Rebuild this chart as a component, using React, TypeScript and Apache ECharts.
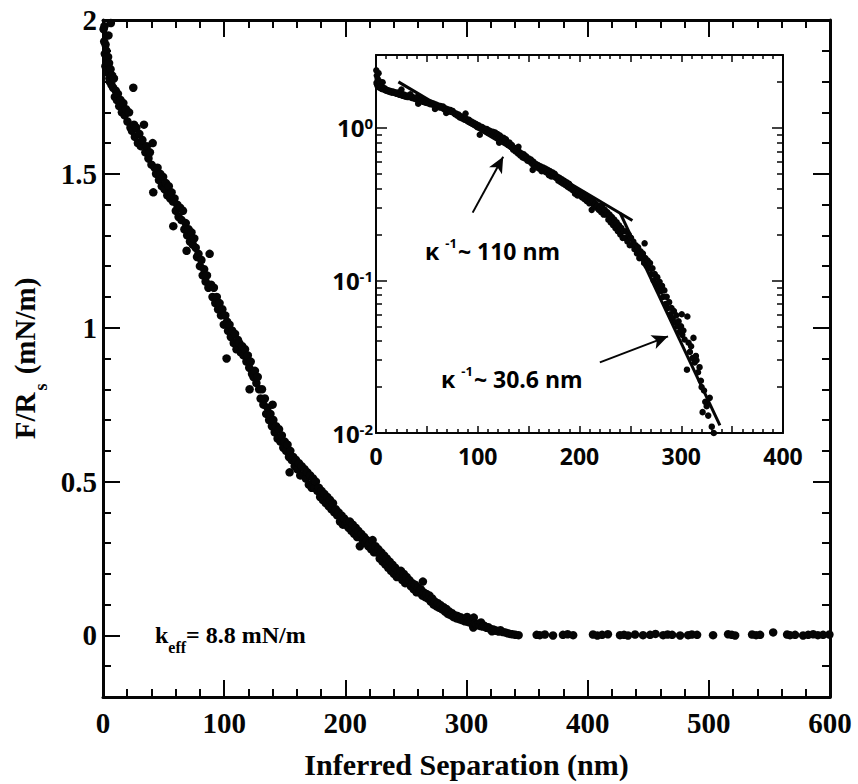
import React, { useEffect, useRef } from "react";
import * as echarts from "echarts";

// Surface force normalised by radius, F/R (mN/m), versus inferred separation (nm)
const separationNm = [
  0.3, 0.5, 0.8, 1.0, 1.2, 1.5, 1.6, 2.0, 2.1, 2.5,
  2.8, 3.0, 3.4, 3.6, 3.9, 4.2, 4.5, 5.3, 6.5, 5.0,
  5.6, 6.2, 6.9, 7.5, 8.3, 9.0, 9.8, 10.6, 11.5, 12.3,
  13.4, 14.5, 15.6, 16.8, 17.9, 19.0, 20.2, 21.5, 22.7, 23.9,
  25.0, 25.6, 26.3, 27.5, 28.8, 30.0, 31.2, 32.5, 33.8, 35.0,
  36.2, 37.5, 38.7, 40.0, 41.0, 41.5, 42.6, 43.8, 45.0, 46.2,
  47.3, 48.5, 49.6, 50.8, 52.0, 53.1, 54.3, 55.5, 56.6, 57.8,
  58.0, 59.0, 60.1, 61.3, 62.4, 63.6, 64.8, 66.0, 67.2, 68.3,
  69.0, 69.5, 70.6, 71.8, 73.0, 74.1, 75.3, 76.5, 77.6, 78.8,
  80.0, 81.2, 82.3, 83.5, 84.7, 85.8, 87.0, 88.0, 89.2, 90.4,
  91.5, 92.7, 93.9, 95.0, 96.2, 97.4, 98.5, 99.7, 100.9, 102.0,
  102.4, 103.2, 104.4, 105.5, 106.7, 107.9, 109.0, 110.2, 111.4, 112.5,
  113.7, 114.9, 116.0, 117.2, 118.4, 119.5, 120.7, 121.0, 121.9, 123.0,
  124.2, 125.4, 126.6, 127.7, 128.9, 130.1, 131.2, 132.4, 133.6, 134.7,
  135.9, 137.1, 138.2, 139.4, 140.0, 140.6, 141.7, 142.9, 144.1, 145.3,
  146.4, 147.6, 148.8, 150.0, 151.1, 152.3, 153.5, 154.0, 154.6, 155.8,
  157.0, 158.2, 159.3, 160.5, 161.7, 162.8, 164.0, 165.2, 166.4, 167.5,
  168.7, 169.9, 171.0, 172.2, 173.4, 174.6, 175.7, 176.9, 178.1, 179.2,
  180.4, 181.6, 182.7, 183.9, 185.1, 186.3, 187.4, 188.6, 189.8, 190.9,
  192.1, 193.3, 194.4, 195.6, 196.8, 198.0, 199.1, 200.3, 201.5, 202.6,
  203.8, 205.0, 206.1, 207.3, 208.5, 209.7, 210.8, 212.0, 213.2, 214.3,
  215.5, 216.7, 217.9, 219.0, 220.2, 221.4, 222.5, 223.7, 224.9, 226.0,
  227.2, 228.4, 229.6, 230.7, 231.9, 233.1, 234.2, 235.4, 236.6, 237.7,
  238.9, 240.1, 241.2, 242.4, 243.6, 244.8, 245.9, 247.1, 248.3, 249.4,
  250.6, 251.8, 252.9, 254.1, 255.3, 256.5, 257.6, 258.8, 260.0, 261.1,
  262.3, 263.5, 264.0, 264.7, 265.8, 267.0, 268.2, 269.3, 270.5, 271.7,
  272.9, 274.0, 275.2, 276.4, 277.5, 278.7, 279.9, 281.1, 282.2, 283.4,
  284.6, 285.7, 286.9, 288.1, 289.3, 290.4, 291.6, 292.8, 293.9, 295.1,
  296.3, 297.4, 298.6, 299.8, 300.5, 301.0, 302.1, 303.3, 305.6, 306.0,
  307.2, 308.5, 309.7, 311.0, 312.0, 313.2, 314.4, 315.0, 316.5, 318.0,
  319.3, 320.0, 321.0, 322.4, 323.6, 325.0, 326.5, 328.0, 330.0, 332.0,
  334.0, 336.0, 338.0, 340.5, 343.0,
  357.9, 360.5, 364.7, 371.4, 379.6, 383.5, 388.0, 404.4, 408.0, 411.9,
  416.7, 426.7, 430.0, 433.3, 439.1, 445.7, 451.5, 456.0, 462.3, 466.0,
  469.7, 476.3, 482.9, 486.0, 490.3, 503.5, 515.9, 519.0, 521.7, 535.7,
  539.0, 542.3, 553.1, 564.6, 567.0, 571.2, 577.8, 582.0, 586.1, 590.0,
  594.3, 599.5,
];

const forceMNm = [
  2.38, 1.97, 2.20, 1.93, 1.98, 1.89, 2.10, 1.85, 1.92, 2.28,
  1.90, 1.88, 2.02, 1.83, 1.86, 1.88, 1.95, 1.81, 1.99, 1.86,
  1.80, 1.84, 1.79, 1.82, 1.78, 1.81, 1.75, 1.77, 1.74, 1.76,
  1.72, 1.74, 1.70, 1.73, 1.69, 1.71, 1.67, 1.70, 1.65, 1.64,
  1.78, 1.66, 1.62, 1.65, 1.60, 1.63, 1.59, 1.61, 1.66, 1.57,
  1.59, 1.55, 1.57, 1.53, 1.60, 1.44, 1.52, 1.50, 1.52, 1.48,
  1.50, 1.46, 1.49, 1.45, 1.47, 1.43, 1.46, 1.42, 1.44, 1.41,
  1.33, 1.42, 1.38, 1.40, 1.36, 1.39, 1.35, 1.38, 1.32, 1.34,
  1.25, 1.30, 1.32, 1.28, 1.31, 1.27, 1.29, 1.26, 1.23, 1.24,
  1.20, 1.22, 1.17, 1.19, 1.15, 1.17, 1.13, 1.24, 1.14, 1.10,
  1.13, 1.08, 1.10, 1.06, 1.08, 1.04, 1.06, 1.01, 1.04, 0.90,
  1.02, 0.99, 1.01, 0.97, 0.99, 0.95, 0.98, 0.93, 0.96, 0.95,
  0.92, 0.94, 0.91, 0.93, 0.89, 0.91, 0.87, 0.80, 0.89, 0.85,
  0.84, 0.86, 0.82, 0.84, 0.80, 0.77, 0.80, 0.75, 0.77, 0.72,
  0.74, 0.70, 0.72, 0.68, 0.75, 0.70, 0.66, 0.68, 0.64, 0.67,
  0.63, 0.65, 0.61, 0.63, 0.60, 0.62, 0.58, 0.53, 0.60, 0.57,
  0.58, 0.55, 0.57, 0.54, 0.56, 0.52, 0.55, 0.52, 0.54, 0.51,
  0.53, 0.49, 0.52, 0.48, 0.51, 0.48, 0.50, 0.47, 0.48, 0.45,
  0.47, 0.44, 0.46, 0.43, 0.45, 0.42, 0.44, 0.41, 0.43, 0.40,
  0.41, 0.39, 0.40, 0.37, 0.39, 0.36, 0.38, 0.36, 0.37, 0.35,
  0.37, 0.34, 0.36, 0.33, 0.35, 0.32, 0.34, 0.29, 0.33, 0.31,
  0.32, 0.30, 0.31, 0.29, 0.30, 0.28, 0.31, 0.27, 0.29, 0.27,
  0.28, 0.25, 0.27, 0.24, 0.26, 0.23, 0.25, 0.22, 0.24, 0.21,
  0.23, 0.20, 0.22, 0.19, 0.21, 0.19, 0.21, 0.18, 0.20, 0.17,
  0.19, 0.17, 0.18, 0.16, 0.17, 0.15, 0.165, 0.14, 0.155, 0.14,
  0.15, 0.13, 0.175, 0.14, 0.125, 0.135, 0.12, 0.13, 0.11, 0.12,
  0.10, 0.11, 0.095, 0.105, 0.09, 0.098, 0.085, 0.092, 0.078, 0.086,
  0.07, 0.078, 0.066, 0.072, 0.06, 0.066, 0.056, 0.063, 0.053, 0.059,
  0.05, 0.054, 0.046, 0.05, 0.06, 0.044, 0.047, 0.041, 0.026, 0.058,
  0.039, 0.034, 0.037, 0.031, 0.042, 0.029, 0.032, 0.03, 0.025, 0.027,
  0.022, 0.02, 0.0137, 0.019, 0.016, 0.015, 0.013, 0.017, 0.011, 0.01,
  0.007, 0.005, 0.004, 0.002, 0.001,
  0.002, 0.001, 0.003, 0.0, 0.002, 0.004, 0.001, 0.003, 0.0, 0.002,
  0.004, 0.001, 0.002, 0.0, 0.003, 0.001, 0.002, 0.005, 0.001, 0.003,
  0.002, 0.0, 0.001, 0.003, 0.002, 0.001, 0.004, 0.002, 0.0, 0.003,
  0.001, 0.002, 0.01, 0.003, 0.001, 0.002, 0.0, 0.002, 0.004, 0.001,
  0.002, 0.003,
];

// Tick positions
const mainYLabels = [0, 0.5, 1, 1.5, 2];
const insetYMinorTicks = [
  0.02, 0.03, 0.04, 0.05, 0.06, 0.07, 0.08, 0.09,
  0.2, 0.3, 0.4, 0.5, 0.6, 0.7, 0.8, 0.9, 2, 3,
];

// Exponential fits on the log plot: decay lengths (nm) and fitted ranges
const decayLengthsNm = [110, 30.6];
const fitRangesNm = [
  [22, 252],
  [240, 338],
];
const fitStartForce = 2.0;

// Arrows from the labels to the fitted regions (separation nm, F/R mN/m)
const arrowTails = [
  [95, 0.278],
  [220, 0.029],
];
const arrowHeads = [
  [125, 0.646],
  [287, 0.043],
];

const INK = "#050505";
const SERIF = "'Liberation Serif', 'Times New Roman', serif";
const SANS = "'Open Sans', 'DejaVu Sans', sans-serif";

function buildFits() {
  const [r1, r2] = fitRangesNm;
  const [k1, k2] = decayLengthsNm;
  const longFit = [
    [r1[0], fitStartForce],
    [r1[1], fitStartForce * Math.exp(-(r1[1] - r1[0]) / k1)],
  ];
  const joinForce = fitStartForce * Math.exp(-(r2[0] - r1[0]) / k1);
  const shortFit = [
    [r2[0], joinForce],
    [r2[1], joinForce * Math.exp(-(r2[1] - r2[0]) / k2)],
  ];
  return [longFit, shortFit];
}

function buildOption() {
  const points = separationNm.map((d, i) => [d, forceMNm[i]]);
  const logPoints = points.filter((p) => p[1] >= 0.01);
  const [longFit, shortFit] = buildFits();

  const mainLine = { show: true, onZero: false, lineStyle: { color: INK, width: 3 } };
  const insetLine = { show: true, onZero: false, lineStyle: { color: INK, width: 2 } };
  const noSplit = { show: false };

  const mainX = (position: string, labels: boolean) => ({
    gridIndex: 0,
    type: "value",
    min: 0,
    max: 600,
    interval: 100,
    position,
    axisLine: mainLine,
    axisTick: { inside: true, length: 17, lineStyle: { color: INK, width: 2 } },
    minorTick: { show: true, splitNumber: 5, length: 8, lineStyle: { color: INK, width: 2 } },
    splitLine: noSplit,
    minorSplitLine: noSplit,
    axisLabel: labels
      ? { color: INK, fontFamily: SERIF, fontWeight: "bold", fontSize: 29, margin: 11 }
      : { show: false },
    ...(labels
      ? {
          name: "Inferred Separation (nm)",
          nameLocation: "middle",
          nameGap: 52,
          nameTextStyle: { color: INK, fontFamily: SERIF, fontWeight: "bold", fontSize: 30 },
        }
      : {}),
  });

  const insetX = (position: string, labels: boolean) => ({
    gridIndex: 1,
    type: "value",
    min: 0,
    max: 400,
    interval: 50,
    position,
    axisLine: insetLine,
    axisTick: { inside: true, length: 7, lineStyle: { color: INK, width: 1.5 } },
    minorTick: { show: true, splitNumber: 5, length: 4, lineStyle: { color: INK, width: 1.5 } },
    splitLine: noSplit,
    minorSplitLine: noSplit,
    axisLabel: labels
      ? {
          color: INK,
          fontFamily: SANS,
          fontWeight: "bold",
          fontSize: 23,
          margin: 11,
          formatter: (v: number) => (v % 100 === 0 ? String(v) : ""),
        }
      : { show: false },
  });

  const mainYMinor = (position: string, labels: boolean) => ({
    gridIndex: 0,
    type: "value",
    min: -0.2,
    max: 2,
    interval: 0.1,
    position,
    axisLine: mainLine,
    axisTick: { inside: true, length: 8, lineStyle: { color: INK, width: 2 } },
    splitLine: noSplit,
    axisLabel: labels
      ? {
          color: INK,
          fontFamily: SERIF,
          fontWeight: "bold",
          fontSize: 29,
          margin: 6,
          formatter: (v: number) =>
            mainYLabels.some((l) => Math.abs(l - v) < 1e-9) ? String(v) : "",
        }
      : { show: false },
    ...(labels
      ? {
          name: "{a|F/R}{s|s}{a| (mN/m)}",
          nameLocation: "middle",
          nameRotate: 90,
          nameGap: 56,
          nameTextStyle: {
            rich: {
              a: {
                color: INK,
                fontFamily: SERIF,
                fontWeight: "bold",
                fontSize: 29,
                lineHeight: 31,
                verticalAlign: "top",
              },
              s: {
                color: INK,
                fontFamily: SERIF,
                fontWeight: "bold",
                fontSize: 18,
                lineHeight: 18,
                padding: [21, 2, 0, 2],
                verticalAlign: "top",
              },
            },
          },
        }
      : {}),
  });

  const mainYMajor = (position: string) => ({
    gridIndex: 0,
    type: "value",
    min: -0.2,
    max: 2,
    interval: 0.1,
    position,
    axisLine: { show: false, onZero: false },
    axisTick: { inside: true, length: 17, customValues: mainYLabels, lineStyle: { color: INK, width: 2 } },
    splitLine: noSplit,
    axisLabel: { show: false },
  });

  const insetYMajor = (position: string, labels: boolean) => ({
    gridIndex: 1,
    type: "log",
    logBase: 10,
    min: 0.01,
    max: 3,
    position,
    axisLine: insetLine,
    axisTick: { inside: true, length: 11, lineStyle: { color: INK, width: 1.5 } },
    splitLine: noSplit,
    axisLabel: labels
      ? {
          margin: 3,
          formatter: (v: number) => {
            const lg = Math.log10(v);
            const e = Math.round(lg);
            if (Math.abs(lg - e) > 1e-6) return "";
            return `{b|10}{s|${e}}`;
          },
          rich: {
            b: {
              color: INK,
              fontFamily: SANS,
              fontWeight: "bold",
              fontSize: 24,
              lineHeight: 24,
              padding: [7, 0, 0, 0],
              verticalAlign: "bottom",
            },
            s: {
              color: INK,
              fontFamily: SANS,
              fontWeight: "bold",
              fontSize: 15,
              lineHeight: 15,
              verticalAlign: "top",
            },
          },
        }
      : { show: false },
  });

  const insetYMinor = (position: string) => ({
    gridIndex: 1,
    type: "log",
    logBase: 10,
    min: 0.01,
    max: 3,
    position,
    axisLine: { show: false, onZero: false },
    axisTick: {
      inside: true,
      length: 6,
      customValues: insetYMinorTicks,
      lineStyle: { color: INK, width: 1.5 },
    },
    splitLine: noSplit,
    axisLabel: { show: false },
  });

  const annoRich = {
    k: { color: INK, fontFamily: SANS, fontWeight: "bold", fontSize: 23, lineHeight: 26, padding: [6, 0, 0, 0], verticalAlign: "bottom" },
    s: { color: INK, fontFamily: SANS, fontWeight: "bold", fontSize: 13, lineHeight: 13, padding: [0, 1, 0, 6], verticalAlign: "top" },
    t: { color: INK, fontFamily: SANS, fontWeight: "bold", fontSize: 23, lineHeight: 26, padding: [6, 0, 0, 0], verticalAlign: "bottom" },
  };

  return {
    animation: false,
    backgroundColor: "#ffffff",
    grid: [
      { left: 103, top: 20, width: 727, height: 678, containLabel: false },
      {
        left: 376,
        top: 55,
        width: 407,
        height: 378,
        show: true,
        backgroundColor: "#ffffff",
        borderWidth: 0,
        containLabel: false,
      },
    ],
    xAxis: [mainX("bottom", true), mainX("top", false), insetX("bottom", true), insetX("top", false)],
    yAxis: [
      mainYMinor("left", true),
      mainYMajor("left"),
      mainYMinor("right", false),
      mainYMajor("right"),
      insetYMajor("left", true),
      insetYMinor("left"),
      insetYMajor("right", false),
      insetYMinor("right"),
    ],
    series: [
      {
        type: "scatter",
        xAxisIndex: 0,
        yAxisIndex: 0,
        data: points,
        symbolSize: 8.5,
        clip: true,
        itemStyle: { color: INK, opacity: 1 },
        silent: true,
      },
      {
        type: "scatter",
        xAxisIndex: 2,
        yAxisIndex: 4,
        data: logPoints,
        symbolSize: 6.5,
        clip: true,
        itemStyle: { color: INK, opacity: 1 },
        silent: true,
        markLine: {
          silent: true,
          animation: false,
          symbol: ["none", "arrow"],
          symbolSize: [11, 16],
          label: { show: false },
          lineStyle: { color: INK, width: 2, type: "solid" },
          data: arrowTails.map((t, i) => [{ coord: t }, { coord: arrowHeads[i] }]),
        },
      },
      {
        type: "line",
        xAxisIndex: 2,
        yAxisIndex: 4,
        data: longFit,
        showSymbol: false,
        clip: true,
        lineStyle: { color: INK, width: 3 },
        silent: true,
      },
      {
        type: "line",
        xAxisIndex: 2,
        yAxisIndex: 4,
        data: shortFit,
        showSymbol: false,
        clip: true,
        lineStyle: { color: INK, width: 3 },
        silent: true,
      },
    ],
    graphic: [
      {
        type: "text",
        x: 425,
        y: 249,
        style: {
          text: `{k|κ}{s|-1}{t|~ ${decayLengthsNm[0]} nm}`,
          rich: annoRich,
          verticalAlign: "middle",
        },
      },
      {
        type: "text",
        x: 441,
        y: 377,
        style: {
          text: `{k|κ}{s|-1}{t|~ ${decayLengthsNm[1]} nm}`,
          rich: annoRich,
          verticalAlign: "middle",
        },
      },
      {
        type: "text",
        x: 155,
        y: 636,
        style: {
          text: "{k|k}{e|eff}{t|= 8.8 mN/m}",
          verticalAlign: "middle",
          rich: {
            k: { color: INK, fontFamily: SERIF, fontWeight: "bold", fontSize: 24, lineHeight: 26, verticalAlign: "top" },
            e: { color: INK, fontFamily: SERIF, fontWeight: "bold", fontSize: 16, lineHeight: 16, padding: [16, 0, 0, 0], verticalAlign: "top" },
            t: { color: INK, fontFamily: SERIF, fontWeight: "bold", fontSize: 24, lineHeight: 26, verticalAlign: "top" },
          },
        },
      },
    ],
  };
}

export default function App() {
  const ref = useRef<HTMLDivElement>(null);

  useEffect(() => {
    if (!ref.current) return;
    const chart = echarts.init(ref.current, undefined, { renderer: "svg" });
    chart.setOption(buildOption() as any);
    return () => chart.dispose();
  }, []);

  return (
    <div
      ref={ref}
      style={{ position: "fixed", left: 0, top: 0, width: 858, height: 784, background: "#fff" }}
    />
  );
}
